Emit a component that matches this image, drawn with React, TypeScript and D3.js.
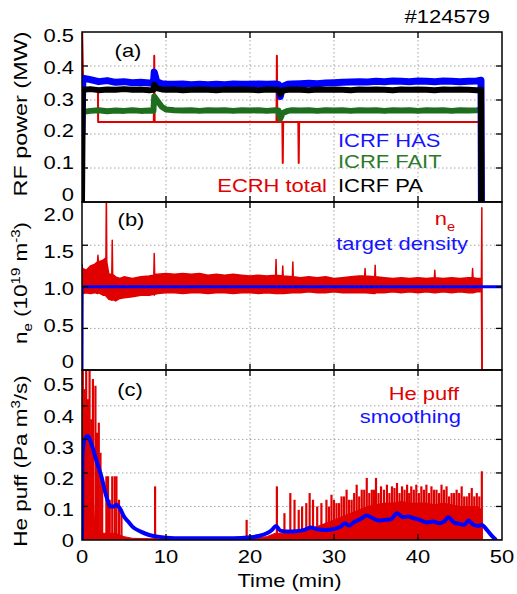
import React from "react";
import * as d3 from "d3";

const FONT = "'Liberation Sans', Arial, Helvetica, sans-serif";
const SX = 1.22;
const RED = "#e00000";
const BLUE = "#0000ff";
const GREEN = "#1f6e1f";

// ---------- panel (a) RF power ----------
const aTime = [0, 0.1, 1, 2, 3, 4, 5, 6, 7, 8, 8.5, 8.6, 8.9, 9.5, 10, 11, 12, 13, 14, 15, 16, 17, 18, 19, 20, 21, 22, 23, 23.4, 23.6, 23.9, 24.5, 25, 26, 27, 28, 29, 30, 31, 32, 33, 34, 35, 36, 37, 38, 39, 40, 41, 42, 43, 44, 45, 46, 47, 47.5, 47.55];
const hasPower = [0.2, 0.364, 0.36, 0.354, 0.357, 0.352, 0.354, 0.351, 0.352, 0.35, 0.349, 0.382, 0.354, 0.348, 0.347, 0.346, 0.347, 0.345, 0.346, 0.345, 0.346, 0.345, 0.347, 0.346, 0.346, 0.347, 0.346, 0.347, 0.346, 0.31, 0.34, 0.346, 0.347, 0.348, 0.349, 0.348, 0.35, 0.351, 0.352, 0.353, 0.354, 0.353, 0.355, 0.354, 0.356, 0.355, 0.354, 0.356, 0.355, 0.354, 0.356, 0.355, 0.354, 0.355, 0.356, 0.358, 0.0];
const paPower = [0, 0.33, 0.332, 0.329, 0.331, 0.33, 0.332, 0.33, 0.331, 0.329, 0.33, 0.345, 0.335, 0.331, 0.33, 0.331, 0.329, 0.33, 0.331, 0.33, 0.329, 0.331, 0.33, 0.331, 0.33, 0.329, 0.331, 0.33, 0.33, 0.318, 0.328, 0.33, 0.331, 0.33, 0.329, 0.331, 0.33, 0.331, 0.33, 0.329, 0.331, 0.33, 0.331, 0.33, 0.329, 0.331, 0.33, 0.331, 0.33, 0.329, 0.331, 0.33, 0.331, 0.33, 0.329, 0.33, 0];
const faitPower = [0.255, 0.265, 0.268, 0.27, 0.267, 0.269, 0.268, 0.27, 0.268, 0.269, 0.268, 0.31, 0.3, 0.28, 0.272, 0.27, 0.269, 0.27, 0.268, 0.27, 0.269, 0.27, 0.268, 0.27, 0.269, 0.27, 0.268, 0.27, 0.269, 0.245, 0.262, 0.268, 0.27, 0.269, 0.27, 0.268, 0.27, 0.269, 0.27, 0.268, 0.27, 0.269, 0.27, 0.268, 0.27, 0.269, 0.27, 0.268, 0.27, 0.269, 0.27, 0.268, 0.27, 0.269, 0.27, 0.271, 0.27];
const ecrhTime = [0, 0.02, 0.15, 1.9, 1.92, 8.55, 8.6, 8.65, 23.15, 23.2, 23.25, 23.85, 23.9, 23.95, 25.75, 25.8, 25.85, 47.6, 47.62, 50];
const ecrhPower = [0, 0.5, 0.33, 0.33, 0.235, 0.235, 0.43, 0.235, 0.235, 0.43, 0.235, 0.235, 0.115, 0.235, 0.235, 0.115, 0.235, 0.235, 0, 0];

// ---------- panel (b) density ----------
const neTime = [0, 0.05, 0.5, 1, 1.5, 1.85, 1.9, 1.95, 2.5, 2.85, 2.9, 2.95, 3.2, 3.55, 3.6, 3.65, 4, 4.5, 5, 6, 7, 8, 8.55, 8.6, 8.65, 9, 10, 11, 12, 13, 14, 15, 16, 17, 18, 19, 20, 21, 22, 23.05, 23.1, 23.15, 23.85, 23.9, 23.95, 25.05, 25.1, 25.15, 26, 27, 28, 29, 30, 31, 32, 33, 33.65, 33.7, 33.75, 34.85, 34.9, 34.95, 36, 37, 38, 39, 40, 41, 41.95, 42, 42.05, 43, 44, 45, 46, 46.45, 46.5, 46.55, 47, 47.55, 47.6, 47.65, 50];
const neUpper = [1.27, 1.22, 1.2, 1.25, 1.27, 1.3, 1.38, 1.3, 1.32, 1.35, 2.15, 1.3, 1.15, 1.15, 1.56, 1.15, 1.12, 1.1, 1.12, 1.1, 1.12, 1.13, 1.14, 1.4, 1.15, 1.15, 1.16, 1.15, 1.16, 1.15, 1.16, 1.14, 1.15, 1.14, 1.15, 1.14, 1.13, 1.14, 1.13, 1.14, 1.33, 1.14, 1.13, 1.25, 1.13, 1.12, 1.3, 1.12, 1.11, 1.12, 1.11, 1.12, 1.1, 1.11, 1.12, 1.13, 1.13, 1.22, 1.13, 1.12, 1.26, 1.12, 1.11, 1.1, 1.11, 1.1, 1.11, 1.1, 1.11, 1.2, 1.11, 1.1, 1.11, 1.1, 1.11, 1.11, 1.22, 1.11, 1.1, 1.1, 1.95, 0, 0];
const neLower = [0.5, 0.92, 0.93, 0.92, 0.93, 0.92, 0.92, 0.93, 0.9, 0.9, 0.88, 0.88, 0.85, 0.84, 0.84, 0.85, 0.83, 0.86, 0.87, 0.88, 0.9, 0.9, 0.91, 0.9, 0.91, 0.92, 0.93, 0.93, 0.92, 0.93, 0.93, 0.92, 0.93, 0.93, 0.92, 0.93, 0.93, 0.92, 0.93, 0.92, 0.92, 0.92, 0.92, 0.92, 0.92, 0.93, 0.93, 0.93, 0.93, 0.94, 0.93, 0.93, 0.94, 0.93, 0.93, 0.93, 0.93, 0.93, 0.93, 0.92, 0.92, 0.93, 0.93, 0.94, 0.93, 0.94, 0.93, 0.94, 0.93, 0.93, 0.93, 0.94, 0.93, 0.94, 0.93, 0.93, 0.93, 0.93, 0.94, 0.94, 0, 0, 0];
const targetTime = [0, 0.02, 50];
const targetDensity = [0, 1.0, 1.0];

// ---------- panel (c) He puff ----------
const heBaseTime = [0, 0.2, 0.6, 1.0, 1.3, 1.5, 2.0, 2.2, 2.5, 3, 4, 5, 6, 8, 10, 15, 20, 22, 23, 24, 25, 26, 27, 28, 29, 30, 31, 32, 33, 34, 35, 36, 37, 38, 39, 40, 41, 42, 43, 44, 45, 46, 47, 47.6, 47.65, 50];
const heBaseValue = [0.3, 0.4, 0.35, 0.3, 0.15, 0.05, 0.03, 0.02, 0.02, 0.02, 0.02, 0.01, 0.005, 0.004, 0.004, 0.004, 0.005, 0.01, 0.02, 0.02, 0.025, 0.03, 0.035, 0.04, 0.05, 0.06, 0.07, 0.08, 0.09, 0.1, 0.105, 0.11, 0.11, 0.115, 0.11, 0.11, 0.11, 0.105, 0.11, 0.105, 0.1, 0.1, 0.1, 0.09, 0, 0];
const heSpikeTime = [0.1, 0.3, 0.5, 0.7, 0.9, 1.1, 1.3, 1.6, 1.8, 2.0, 2.2, 2.4, 2.9, 3.1, 3.3, 3.6, 3.9, 4.1, 4.4, 4.7, 8.7, 19.6, 23.2, 24.1, 24.8, 25.3, 25.8, 26.2, 26.7, 27.1, 27.5, 28.0, 28.5, 29.1, 29.7, 30.3, 30.9, 31.5, 32.1, 32.7, 33.3, 33.9, 34.5, 35.0, 35.6, 36.3, 36.9, 37.5, 38.1, 38.7, 39.2, 39.8, 40.4, 41.0, 41.6, 42.2, 42.8, 43.4, 44.0, 44.6, 45.2, 45.8, 46.4, 47.0, 47.6,
  29.4, 30.0, 30.6, 31.2, 31.8, 32.4, 33.0, 33.6, 34.2, 34.75, 35.3, 35.95, 36.6, 37.2, 37.8, 38.4, 38.95, 39.5, 40.1, 40.7, 41.3, 41.9, 42.5, 43.1, 43.7, 44.3, 44.9, 45.5, 46.1, 46.7, 47.3];
const heSpikeValue = [0.6, 0.45, 0.6, 0.42, 0.6, 0.36, 0.48, 0.46, 0.32, 0.35, 0.26, 0.18, 0.19, 0.19, 0.12, 0.19, 0.19, 0.19, 0.12, 0.08, 0.16, 0.06, 0.16, 0.08, 0.14, 0.12, 0.09, 0.1, 0.11, 0.14, 0.12, 0.1, 0.11, 0.12, 0.135, 0.11, 0.13, 0.15, 0.12, 0.165, 0.15, 0.185, 0.15, 0.185, 0.16, 0.165, 0.16, 0.17, 0.16, 0.165, 0.16, 0.165, 0.16, 0.165, 0.16, 0.15, 0.165, 0.16, 0.14, 0.15, 0.16, 0.13, 0.155, 0.14, 0.205,
  0.1, 0.12, 0.11, 0.13, 0.12, 0.14, 0.13, 0.15, 0.14, 0.15, 0.14, 0.15, 0.14, 0.155, 0.14, 0.15, 0.14, 0.15, 0.14, 0.15, 0.14, 0.15, 0.14, 0.15, 0.13, 0.14, 0.14, 0.13, 0.14, 0.13, 0.13];
const smoothTime = [0, 0.05, 0.3, 0.7, 1.2, 1.8, 2.3, 2.9, 3.4, 3.8, 4.1, 4.5, 5, 5.5, 6, 7, 8, 9, 10, 12, 15, 18, 20, 21, 22, 22.6, 23.1, 23.6, 24.5, 25.5, 26.5, 27.2, 28, 29, 30, 30.8, 31.3, 31.8, 32.5, 33.2, 33.9, 34.6, 35.3, 36, 36.8, 37.5, 38.2, 38.8, 39.5, 40.2, 41, 41.8, 42.5, 43.1, 43.6, 44.3, 45, 45.5, 46, 46.6, 47.2, 47.6, 48.2, 48.8, 49.3];
const smoothValue = [0, 0.25, 0.3, 0.31, 0.28, 0.23, 0.19, 0.13, 0.1, 0.1, 0.105, 0.095, 0.07, 0.055, 0.04, 0.025, 0.015, 0.01, 0.007, 0.005, 0.005, 0.005, 0.008, 0.012, 0.02, 0.03, 0.042, 0.028, 0.025, 0.026, 0.03, 0.037, 0.032, 0.03, 0.033, 0.04, 0.05, 0.043, 0.055, 0.063, 0.073, 0.065, 0.058, 0.06, 0.062, 0.08, 0.068, 0.07, 0.065, 0.06, 0.052, 0.055, 0.05, 0.055, 0.068, 0.052, 0.048, 0.045, 0.058, 0.045, 0.042, 0.045, 0.03, 0.012, 0];

// ---------- ticks ----------
const xTicks = [0, 10, 20, 30, 40, 50];
const xTickLabels = ["0", "10", "20", "30", "40", "50"];
const aTicks = [0, 0.1, 0.2, 0.3, 0.4, 0.5];
const aTickLabels = ["0", "0.1", "0.2", "0.3", "0.4", "0.5"];
const bTicks = [0, 0.5, 1.0, 1.5, 2.0];
const bTickLabels = ["0", "0.5", "1.0", "1.5", "2.0"];
const cTicks = [0, 0.1, 0.2, 0.3, 0.4, 0.5];
const cTickLabels = ["0", "0.1", "0.2", "0.3", "0.4", "0.5"];

const zip = (t: number[], v: number[]): [number, number][] =>
  t.map((d, i) => [d, v[i]] as [number, number]).filter((p) => p[1] !== undefined);

const X0 = 82, X1 = 502;
const x = d3.scaleLinear().domain([0, 50]).range([X0, X1]);

type Panel = { id: string; top: number; bottom: number; y: d3.ScaleLinear<number, number>; lab: d3.ScaleLinear<number, number>; ticks: number[]; labels: string[] };

const pA: Panel = { id: "a", top: 32, bottom: 202, y: d3.scaleLinear().domain([0, 0.5]).range([202, 32]), lab: d3.scaleLinear().domain([0, 0.5]).range([194.5, 35.5]), ticks: aTicks, labels: aTickLabels };
const pB: Panel = { id: "b", top: 202, bottom: 370, y: d3.scaleLinear().domain([0, 2.02]).range([370, 202]), lab: d3.scaleLinear().domain([0, 2]).range([362, 214.5]), ticks: bTicks, labels: bTickLabels };
const pC: Panel = { id: "c", top: 370, bottom: 540, y: d3.scaleLinear().domain([0, 0.507]).range([540, 370]), lab: d3.scaleLinear().domain([0, 0.5]).range([541, 385]), ticks: cTicks, labels: cTickLabels };

function T(props: { x: number; y: number; anchor?: string; size?: number; fill?: string; sx?: number; children: React.ReactNode }) {
  const { x: tx, y: ty, anchor = "start", size = 18, fill = "#000", sx = SX, children } = props;
  return (
    <text transform={`translate(${tx},${ty}) scale(${sx},1)`} textAnchor={anchor as any} fontSize={size} fill={fill} fontFamily={FONT}>
      {children}
    </text>
  );
}

function VT(props: { x: number; y: number; sx?: number; children: React.ReactNode }) {
  const { x: tx, y: ty, sx = 1.25, children } = props;
  return (
    <text transform={`translate(${tx},${ty}) rotate(-90) scale(${sx},1)`} textAnchor="middle" fontSize={18} fill="#000" fontFamily={FONT}>
      {children}
    </text>
  );
}

function Frame({ p }: { p: Panel }) {
  const inner = p.ticks.filter((t) => p.y(t) > p.top + 3 && p.y(t) < p.bottom - 3);
  const xin = xTicks.filter((t) => t > 0 && t < 50);
  return (
    <g>
      <rect x={X0} y={p.top} width={X1 - X0} height={p.bottom - p.top} fill="none" stroke="#000" strokeWidth={1.5} />
      {inner.map((t) => (
        <g key={"y" + t}>
          <line x1={X0} x2={X0 + 6} y1={p.y(t)} y2={p.y(t)} stroke="#000" strokeWidth={1.3} />
          <line x1={X1 - 6} x2={X1} y1={p.y(t)} y2={p.y(t)} stroke="#000" strokeWidth={1.3} />
        </g>
      ))}
      {xin.map((t) => (
        <g key={"x" + t}>
          <line x1={x(t)} x2={x(t)} y1={p.top} y2={p.top + 6} stroke="#000" strokeWidth={1.3} />
          <line x1={x(t)} x2={x(t)} y1={p.bottom - 6} y2={p.bottom} stroke="#000" strokeWidth={1.3} />
        </g>
      ))}
      {p.ticks.map((t, i) => (
        <T key={"l" + t} x={74} y={p.lab(t) + 6.4} anchor="end">{p.labels[i]}</T>
      ))}
    </g>
  );
}

function Grid({ p }: { p: Panel }) {
  const inner = p.ticks.filter((t) => p.y(t) > p.top + 3 && p.y(t) < p.bottom - 3);
  const xin = xTicks.filter((t) => t > 0 && t < 50);
  return (
    <g stroke="#9a9a9a" strokeWidth={0.9} strokeDasharray="1.5,2.5">
      {inner.map((t) => (
        <line key={"gy" + t} x1={X0} x2={X1} y1={p.y(t)} y2={p.y(t)} />
      ))}
      {xin.map((t) => (
        <line key={"gx" + t} x1={x(t)} x2={x(t)} y1={p.top} y2={p.bottom} />
      ))}
    </g>
  );
}

export default function App() {
  const lineA = d3.line<[number, number]>().x((d) => x(d[0])).y((d) => pA.y(d[1]));
  const lineB = d3.line<[number, number]>().x((d) => x(d[0])).y((d) => pB.y(d[1]));
  const lineC = d3.line<[number, number]>().x((d) => x(d[0])).y((d) => pC.y(d[1]));
  const lineCs = d3.line<[number, number]>().x((d) => x(d[0])).y((d) => pC.y(d[1])).curve(d3.curveMonotoneX);

  const neBand = neTime.map((t, i) => ({ t, hi: neUpper[i], lo: neLower[i] })).filter((d) => d.hi !== undefined && d.lo !== undefined);
  const neArea = d3.area<{ t: number; hi: number; lo: number }>().x((d) => x(d.t)).y0((d) => pB.y(d.lo)).y1((d) => pB.y(d.hi));
  const heArea = d3.area<[number, number]>().x((d) => x(d[0])).y0(pC.y(0)).y1((d) => pC.y(d[1]));
  const spikes = zip(heSpikeTime, heSpikeValue);

  return (
    <svg width={517} height={594} style={{ position: "absolute", left: 0, top: 0, background: "#fff" }}>
      <defs>
        {[pA, pB, pC].map((p) => (
          <clipPath id={"clip" + p.id} key={p.id}>
            <rect x={X0} y={p.top} width={X1 - X0} height={p.bottom - p.top} />
          </clipPath>
        ))}
      </defs>
      <rect x={0} y={0} width={517} height={594} fill="#fff" />

      {/* panel a */}
      <Grid p={pA} />
      <g clipPath="url(#clipa)" fill="none" strokeLinejoin="round">
        <path d={lineA(zip(ecrhTime, ecrhPower)) || ""} stroke={RED} strokeWidth={2} />
        <path d={lineA(zip(aTime, faitPower)) || ""} stroke={GREEN} strokeWidth={6} />
        <path d={lineA(zip(aTime, hasPower)) || ""} stroke={BLUE} strokeWidth={7} />
        <path d={lineA(zip(aTime, paPower)) || ""} stroke="#000" strokeWidth={6} />
        <path d={lineA(zip(aTime.slice(-2), paPower.slice(-2))) || ""} stroke="#000" strokeWidth={2} />
      </g>

      {/* panel b */}
      <Grid p={pB} />
      <g clipPath="url(#clipb)">
        <path d={neArea(neBand) || ""} fill={RED} stroke={RED} strokeWidth={1.5} strokeLinejoin="round" />
        <path d={lineB(zip(targetTime, targetDensity)) || ""} fill="none" stroke={BLUE} strokeWidth={3} />
      </g>

      {/* panel c */}
      <Grid p={pC} />
      <g clipPath="url(#clipc)">
        <path d={heArea(zip(heBaseTime, heBaseValue)) || ""} fill={RED} stroke={RED} strokeWidth={1} />
        {spikes.map((s, i) => (
          <path key={i} d={lineC([[s[0], 0], s]) || ""} stroke={RED} strokeWidth={2.2} fill="none" />
        ))}
        <path d={lineCs(zip(smoothTime, smoothValue)) || ""} fill="none" stroke={BLUE} strokeWidth={4} strokeLinejoin="round" />
      </g>

      <Frame p={pA} />
      <Frame p={pB} />
      <Frame p={pC} />

      {/* x axis labels */}
      {xTicks.map((t, i) => (
        <T key={t} x={x(t)} y={563} anchor="middle">{xTickLabels[i]}</T>
      ))}
      <T x={289.5} y={587} anchor="middle">Time (min)</T>

      {/* y titles */}
      <VT x={27} y={114} sx={1.3}>RF power (MW)</VT>
      <VT x={27} y={283}>
        <tspan>n</tspan>
        <tspan fontSize={12} dy={5}>e</tspan>
        <tspan dy={-5}> (10</tspan>
        <tspan fontSize={12} dy={-7}>19</tspan>
        <tspan dy={7}> m</tspan>
        <tspan fontSize={12} dy={-7}>-3</tspan>
        <tspan dy={7}>)</tspan>
      </VT>
      <VT x={27} y={461}>
        <tspan>He puff (Pa m</tspan>
        <tspan fontSize={12} dy={-7}>3</tspan>
        <tspan dy={7}>/s)</tspan>
      </VT>

      {/* panel labels */}
      <T x={128} y={57} anchor="middle">(a)</T>
      <T x={131} y={226} anchor="middle">(b)</T>
      <T x={130} y={396} anchor="middle">(c)</T>

      <T x={490} y={23} anchor="end">#124579</T>

      {/* legends */}
      <T x={338} y={147} fill="#1414ff">ICRF HAS</T>
      <T x={338} y={168} fill="#2a7a2a">ICRF FAIT</T>
      <T x={338} y={192} fill="#000">ICRF PA</T>
      <T x={327} y={192} anchor="end" fill={RED}>ECRH total</T>

      <T x={447} y={225} anchor="end" fill={RED}>n</T>
      <T x={447} y={231} fill={RED} size={12}>e</T>
      <T x={468} y={250} anchor="end" fill="#1414ff">target density</T>

      <T x={459} y={400} anchor="end" fill={RED}>He puff</T>
      <T x={461} y={423} anchor="end" fill="#1414ff">smoothing</T>
    </svg>
  );
}
